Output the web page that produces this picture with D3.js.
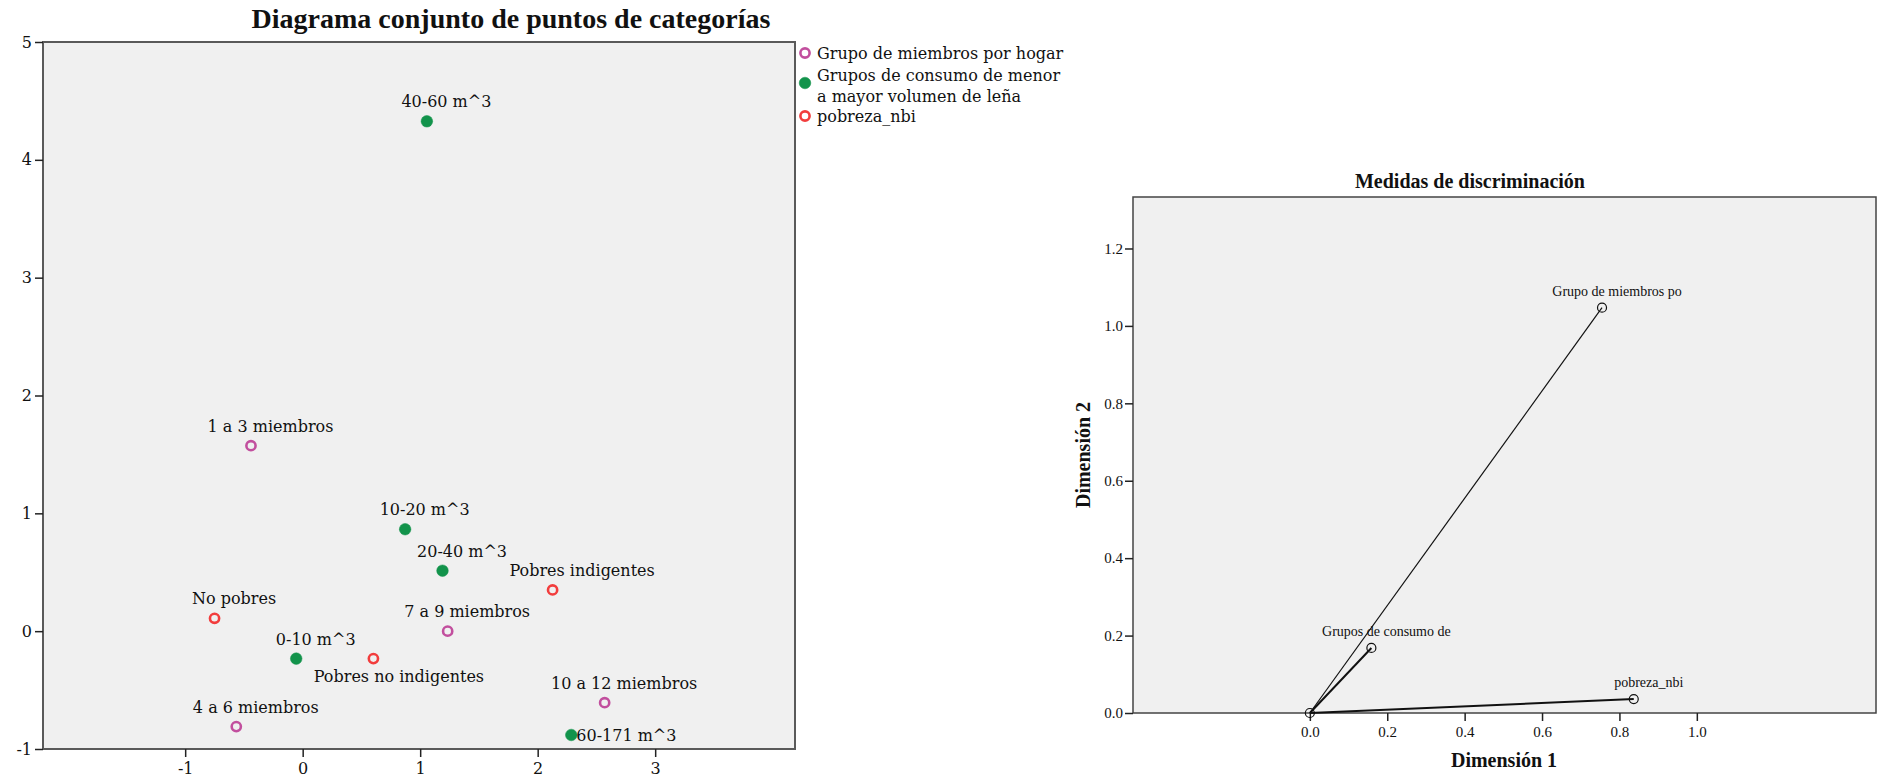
<!DOCTYPE html>
<html>
<head>
<meta charset="utf-8">
<script src="https://cdn.jsdelivr.net/npm/d3@7"></script>
<style>
  html, body { margin: 0; padding: 0; background: #ffffff; }
  svg { display: block; }
  .lbl { font-family: "DejaVu Serif", serif; font-size: 16px; fill: #111; }
  .tnr { font-family: "Liberation Serif", "Times New Roman", serif; fill: #111; }
</style>
</head>
<body>
<svg id="chart" width="1877" height="784"></svg>
<script>
// ---------------- DATA ----------------
// Left chart: joint plot of category points
const seriesNames = ["Grupo de miembros por hogar", "Grupos de consumo de menor|a mayor volumen de leña", "pobreza_nbi"];

const miembrosLabels = ["1 a 3 miembros", "4 a 6 miembros", "7 a 9 miembros", "10 a 12 miembros"];
const miembrosDim1   = [-0.44, -0.565, 1.234, 2.57];
const miembrosDim2   = [1.574, -0.81, 0.00, -0.607];

const consumoLabels = ["0-10 m^3", "10-20 m^3", "20-40 m^3", "40-60 m^3", "60-171 m^3"];
const consumoDim1   = [-0.055, 0.872, 1.19, 1.057, 2.286];
const consumoDim2   = [-0.233, 0.865, 0.513, 4.327, -0.881];

const pobrezaLabels = ["No pobres", "Pobres no indigentes", "Pobres indigentes"];
const pobrezaDim1   = [-0.75, 0.602, 2.127];
const pobrezaDim2   = [0.109, -0.233, 0.35];

const leftXTicks = [-1, 0, 1, 2, 3];
const leftYTicks = [-1, 0, 1, 2, 3, 4, 5];

// Right chart: discrimination measures
const discVars  = ["Grupo de miembros po", "Grupos de consumo de", "pobreza_nbi"];
const discDim1  = [0.755, 0.159, 0.837];
const discDim2  = [1.047, 0.168, 0.036];
const rightXTicks = [0.0, 0.2, 0.4, 0.6, 0.8, 1.0];
const rightYTicks = [0.0, 0.2, 0.4, 0.6, 0.8, 1.0, 1.2];

// ---------------- STYLE / LAYOUT ----------------
const colors = { miembros: "#c24f9e", consumo: "#12934b", pobreza: "#f23d3d" };
// label placement relative to marker: [dx of text centre (or start), dy of baseline, anchor]
const defaultPlacement = [19.5, -14, "middle"];
const labelPlacement = {
  "Pobres no indigentes": [25.5, 23, "middle"],
  "Pobres indigentes": [29.5, -14, "middle"],
  "60-171 m^3": [5, 6, "start"]
};
const discLineWidth = { "Grupo de miembros po": 1.2, "Grupos de consumo de": 2, "pobreza_nbi": 2 };
const plainFmt = d => String(d);          // hyphen-minus like the original
const oneDec = d => d.toFixed(1);

const svg = d3.select("#chart");

// ================= LEFT CHART =================
const L = { left: 43, right: 795, top: 42, bottom: 749 };
const x = d3.scaleLinear().domain([-2.21, 4.19]).range([L.left, L.right]);
const y = d3.scaleLinear().domain([-1, 5]).range([L.bottom, L.top]);

svg.append("rect")
  .attr("x", L.left).attr("y", L.top)
  .attr("width", L.right - L.left).attr("height", L.bottom - L.top)
  .attr("fill", "#f0f0f0").attr("stroke", "#5a5a5a").attr("stroke-width", 2);

const gxL = svg.append("g").attr("transform", `translate(0,${L.bottom})`)
  .call(d3.axisBottom(x).tickValues(leftXTicks).tickFormat(plainFmt).tickSize(8).tickPadding(6));
const gyL = svg.append("g").attr("transform", `translate(${L.left},0)`)
  .call(d3.axisLeft(y).tickValues(leftYTicks).tickFormat(plainFmt).tickSize(8).tickPadding(3));
[gxL, gyL].forEach(g => {
  g.select(".domain").remove();
  g.selectAll(".tick line").attr("stroke", "#222").attr("stroke-width", 1.5);
  g.selectAll(".tick text").attr("class", "lbl").style("font-size", "16px").attr("fill", "#111");
});

svg.append("text").attr("class", "tnr")
  .attr("x", 511).attr("y", 28).attr("text-anchor", "middle")
  .style("font-size", "28px").style("font-weight", "bold")
  .text("Diagrama conjunto de puntos de categorías");

function drawSeries(labels, d1, d2, color, filled) {
  const data = labels.map((l, i) => ({ label: l, x: d1[i], y: d2[i] }));
  const g = svg.append("g");
  g.selectAll("circle").data(data).join("circle")
    .attr("cx", d => x(d.x)).attr("cy", d => y(d.y))
    .attr("r", filled ? 5.8 : 4.6)
    .attr("fill", filled ? color : "none")
    .attr("stroke", color).attr("stroke-width", filled ? 0.5 : 2.6);
  g.selectAll("text").data(data).join("text")
    .attr("class", "lbl")
    .attr("x", d => x(d.x) + (labelPlacement[d.label] || defaultPlacement)[0])
    .attr("y", d => y(d.y) + (labelPlacement[d.label] || defaultPlacement)[1])
    .attr("text-anchor", d => (labelPlacement[d.label] || defaultPlacement)[2])
    .text(d => d.label);
}
drawSeries(miembrosLabels, miembrosDim1, miembrosDim2, colors.miembros, false);
drawSeries(consumoLabels, consumoDim1, consumoDim2, colors.consumo, true);
drawSeries(pobrezaLabels, pobrezaDim1, pobrezaDim2, colors.pobreza, false);

// Legend
const legend = svg.append("g");
const legItems = [
  { name: seriesNames[0], color: colors.miembros, filled: false, cy: 53, baselines: [59] },
  { name: seriesNames[1], color: colors.consumo, filled: true, cy: 83, baselines: [80.5, 101.5] },
  { name: seriesNames[2], color: colors.pobreza, filled: false, cy: 116, baselines: [122] }
];
legItems.forEach(it => {
  legend.append("circle").attr("cx", 805).attr("cy", it.cy)
    .attr("r", it.filled ? 5.8 : 4.6)
    .attr("fill", it.filled ? it.color : "none")
    .attr("stroke", it.color).attr("stroke-width", it.filled ? 0.5 : 2.6);
  it.name.split("|").forEach((line, i) => {
    legend.append("text").attr("class", "lbl").attr("x", 817).attr("y", it.baselines[i]).text(line);
  });
});

// ================= RIGHT CHART =================
const R = { left: 1133, right: 1876, top: 197, bottom: 713 };
const x2 = d3.scaleLinear().domain([-0.457, 1.463]).range([R.left, R.right]);
const y2 = d3.scaleLinear().domain([0, 1.333]).range([R.bottom, R.top]);

svg.append("rect")
  .attr("x", R.left).attr("y", R.top)
  .attr("width", R.right - R.left).attr("height", R.bottom - R.top)
  .attr("fill", "#f0f0f0").attr("stroke", "#444").attr("stroke-width", 1.5);

const gxR = svg.append("g").attr("transform", `translate(0,${R.bottom})`)
  .call(d3.axisBottom(x2).tickValues(rightXTicks).tickFormat(oneDec).tickSize(8).tickPadding(5));
const gyR = svg.append("g").attr("transform", `translate(${R.left},0)`)
  .call(d3.axisLeft(y2).tickValues(rightYTicks).tickFormat(oneDec).tickSize(8).tickPadding(2));
[gxR, gyR].forEach(g => {
  g.select(".domain").remove();
  g.selectAll(".tick line").attr("stroke", "#222").attr("stroke-width", 1.5);
  g.selectAll(".tick text").attr("class", "tnr").style("font-size", "15px").attr("fill", "#111");
});

svg.append("text").attr("class", "tnr")
  .attr("x", 1470).attr("y", 188).attr("text-anchor", "middle")
  .style("font-size", "20px").style("font-weight", "bold")
  .text("Medidas de discriminación");
svg.append("text").attr("class", "tnr")
  .attr("x", 1504).attr("y", 767).attr("text-anchor", "middle")
  .style("font-size", "20px").style("font-weight", "bold")
  .text("Dimensión 1");
svg.append("text").attr("class", "tnr")
  .attr("transform", "translate(1090,455) rotate(-90)").attr("text-anchor", "middle")
  .style("font-size", "20px").style("font-weight", "bold")
  .text("Dimensión 2");

const disc = discVars.map((v, i) => ({ name: v, x: discDim1[i], y: discDim2[i] }));
const gR = svg.append("g");
gR.selectAll("line").data(disc).join("line")
  .attr("x1", x2(0)).attr("y1", y2(0))
  .attr("x2", d => x2(d.x)).attr("y2", d => y2(d.y))
  .attr("stroke", "#111").attr("stroke-width", d => discLineWidth[d.name]);
gR.append("circle").attr("cx", x2(0)).attr("cy", y2(0)).attr("r", 4.5)
  .attr("fill", "none").attr("stroke", "#111").attr("stroke-width", 1.2);
gR.selectAll("circle.pt").data(disc).join("circle").attr("class", "pt")
  .attr("cx", d => x2(d.x)).attr("cy", d => y2(d.y)).attr("r", 4.5)
  .attr("fill", "none").attr("stroke", "#111").attr("stroke-width", 1.2);
gR.selectAll("text").data(disc).join("text").attr("class", "tnr")
  .attr("x", d => x2(d.x) + 15).attr("y", d => y2(d.y) - 12)
  .attr("text-anchor", "middle").style("font-size", "14px")
  .text(d => d.name);
</script>
</body>
</html>
